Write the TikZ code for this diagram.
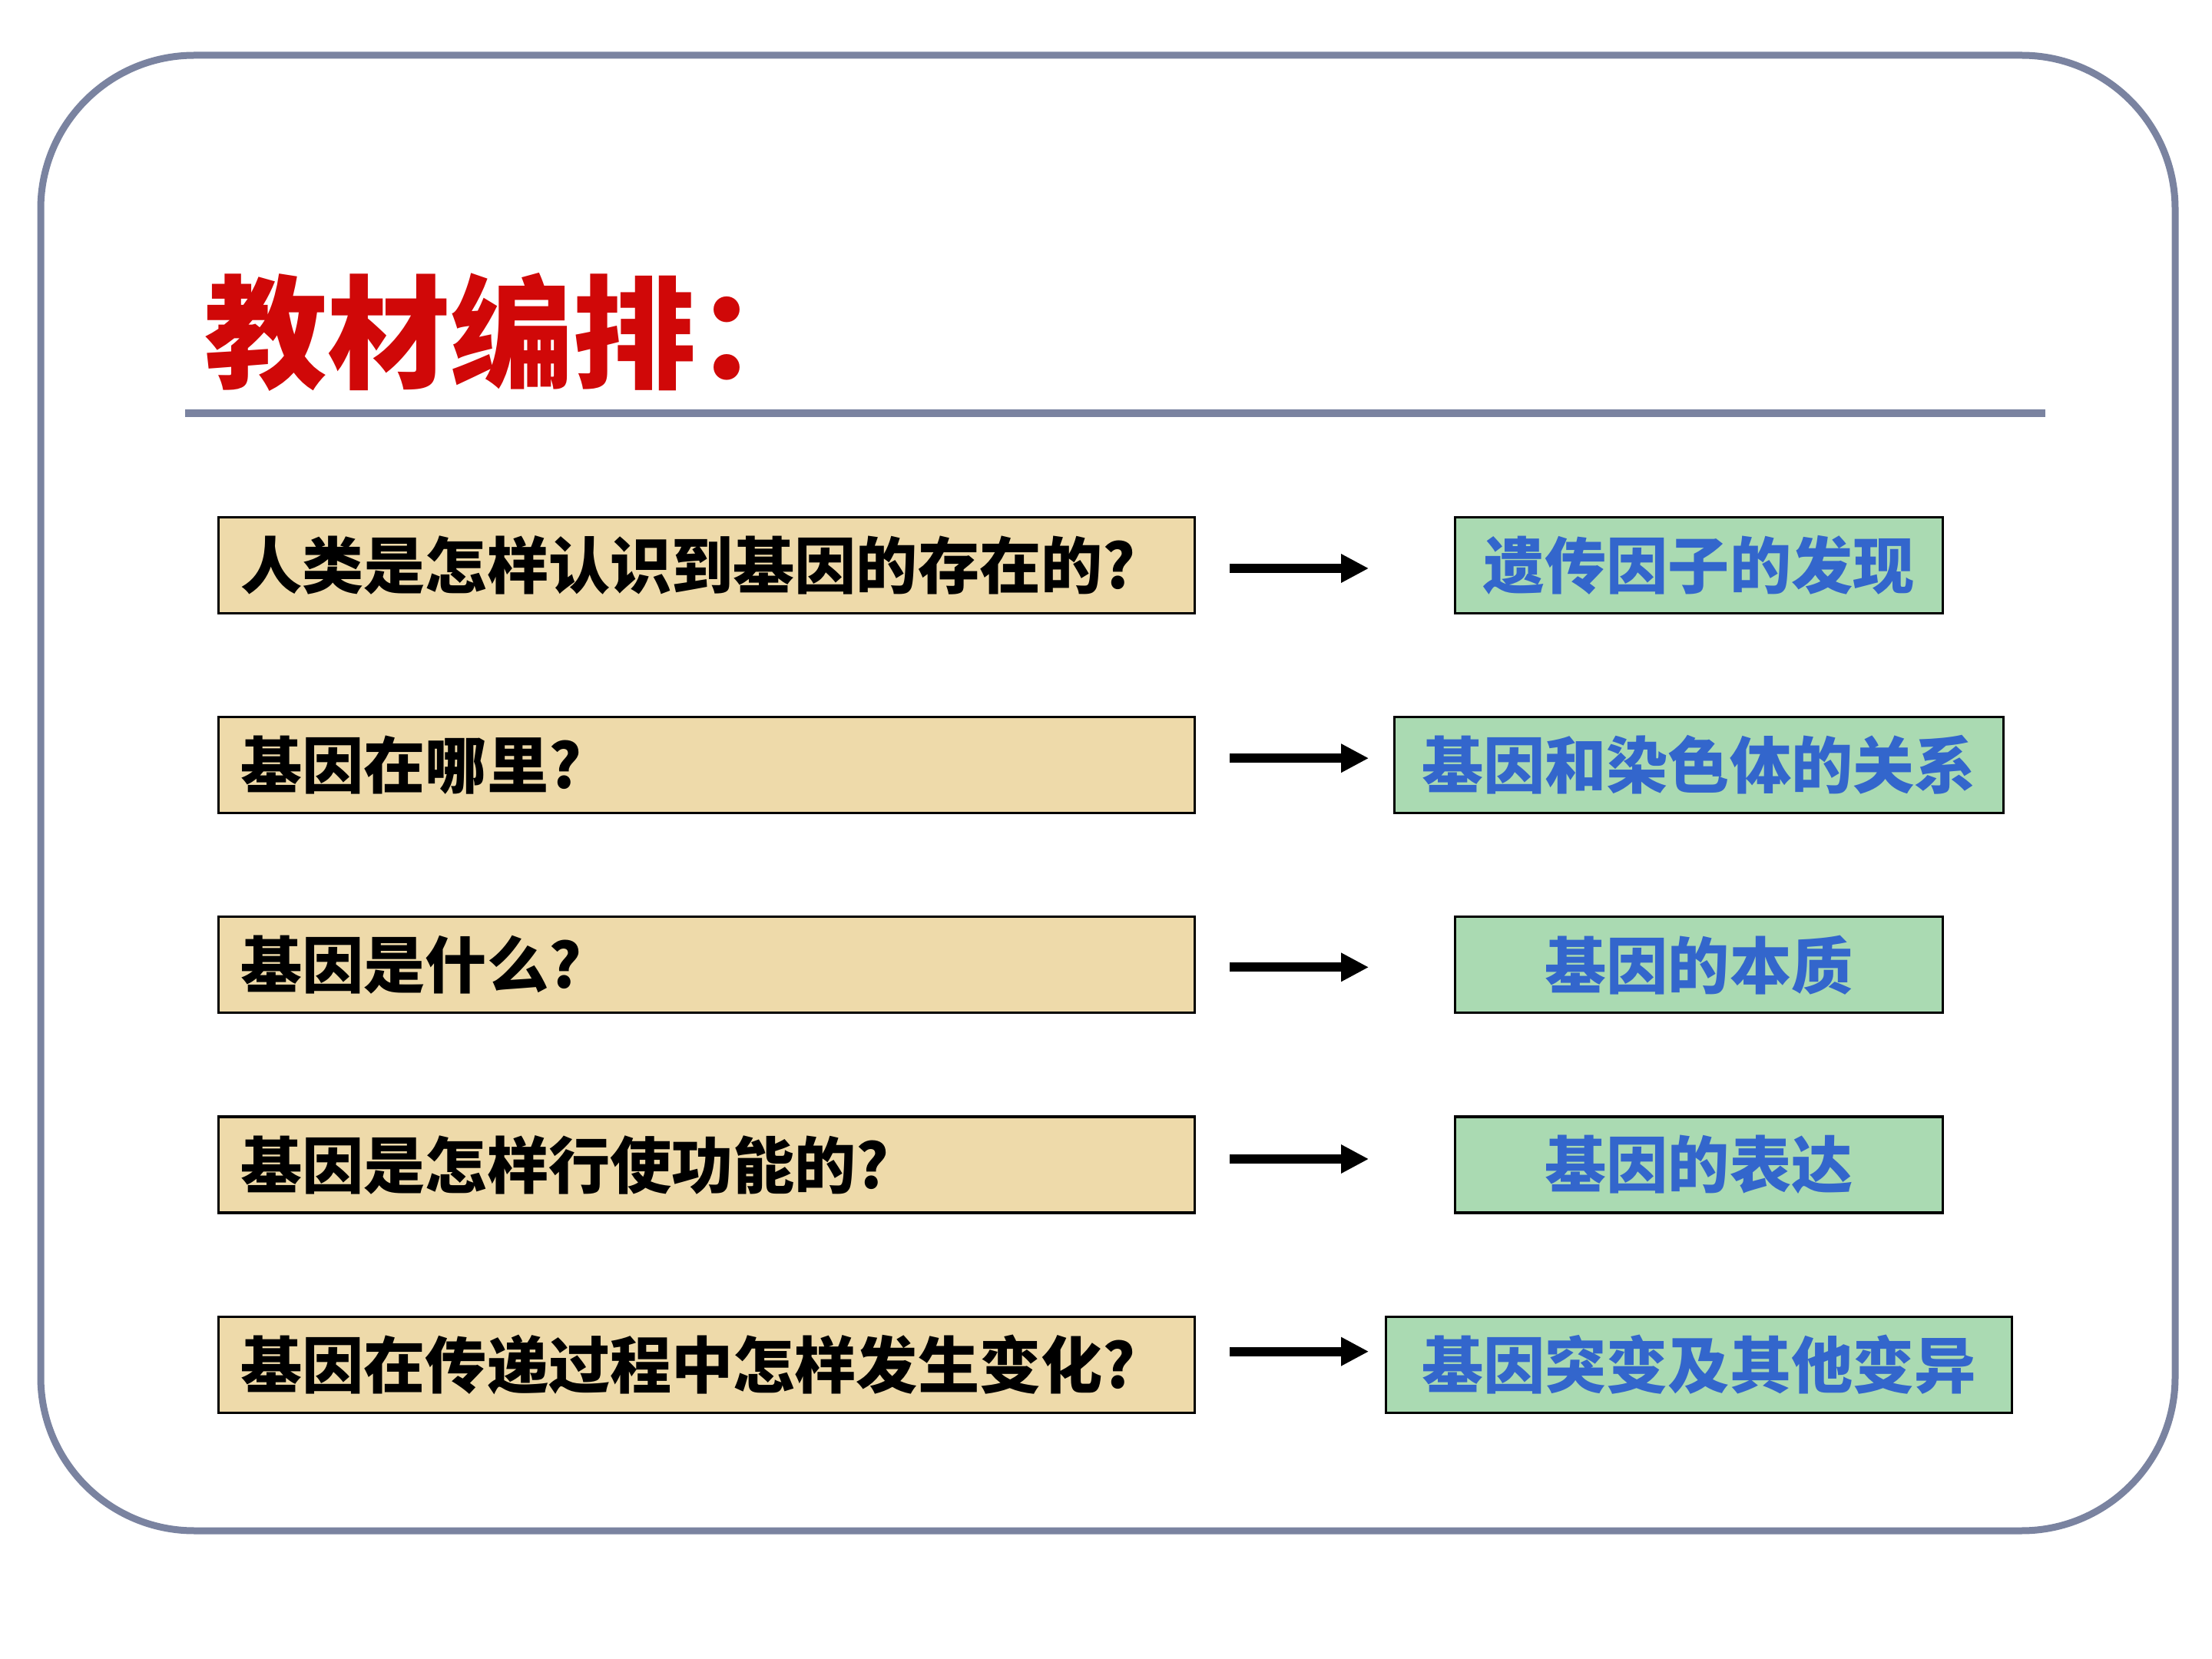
\documentclass[tikz,border=0pt]{standalone}
\usepackage{fontspec}
\newfontfamily\cjk{Noto Sans CJK SC}
\usetikzlibrary{arrows.meta,positioning}
\definecolor{frame}{RGB}{122,131,160}
\definecolor{paper}{RGB}{238,218,170}
\definecolor{leaf}{RGB}{170,218,178}
\definecolor{ink}{RGB}{51,102,204}
\definecolor{titlered}{RGB}{208,8,8}

\begin{document}
\begin{tikzpicture}[
 node distance=1.32cm,
 qbox/.style={draw=black,line width=0.9pt,fill=paper,minimum height=1.25cm,
 text width=12.13cm,inner xsep=0.29cm,inner ysep=0pt,align=left,
 font=\cjk\bfseries\fontsize{22.8}{24}\selectfont},
 abox/.style={draw=black,line width=0.9pt,fill=leaf,minimum height=1.25cm,
 inner sep=0pt,text=ink,font=\cjk\bfseries\fontsize{22.8}{24}\selectfont},
 arr/.style={-{Triangle[length=0.36cm,width=0.35cm]},line width=0.12cm}]
\useasboundingbox (0,0) rectangle (28.8,-21.6);
% slide frame and title rule
\draw[frame,line width=0.09cm,rounded corners=2cm] (0.53,-0.72) rectangle (28.32,-19.93);
\draw[frame,line width=0.1cm] (2.41,-5.38) -- (26.63,-5.38);
\node[anchor=west,inner sep=0pt,text=titlered,font=\cjk\bfseries\fontsize{45.5}{48}\selectfont]
 (title) at (2.66,-4.32) {教材编排：};
% questions
\node[qbox,anchor=west] (q1) at (2.83,-7.36) {人类是怎样认识到基因的存在的?};
\node[qbox,below=of q1] (q2) {基因在哪里?};
\node[qbox,below=of q2] (q3) {基因是什么?};
\node[qbox,below=of q3] (q4) {基因是怎样行使功能的?};
\node[qbox,below=of q4] (q5) {基因在传递过程中怎样发生变化?};
% answers
\coordinate (acol) at (22.12,0);
\node[abox,minimum width=6.35cm] (a1) at (q1 -| acol) {遗传因子的发现};
\node[abox,minimum width=7.93cm] (a2) at (q2 -| acol) {基因和染色体的关系};
\node[abox,minimum width=6.35cm] (a3) at (q3 -| acol) {基因的本质};
\node[abox,minimum width=6.35cm] (a4) at (q4 -| acol) {基因的表达};
\node[abox,minimum width=8.15cm] (a5) at (q5 -| acol) {基因突变及其他变异};
\foreach \i/\dy in {1/-0.04,2/0.09,3/-0.03,4/0.075,5/0.17}
 \draw[arr] ([shift={(0.44,\dy)}]q\i.east) -- ++(1.81,0);
\end{tikzpicture}
\end{document}
